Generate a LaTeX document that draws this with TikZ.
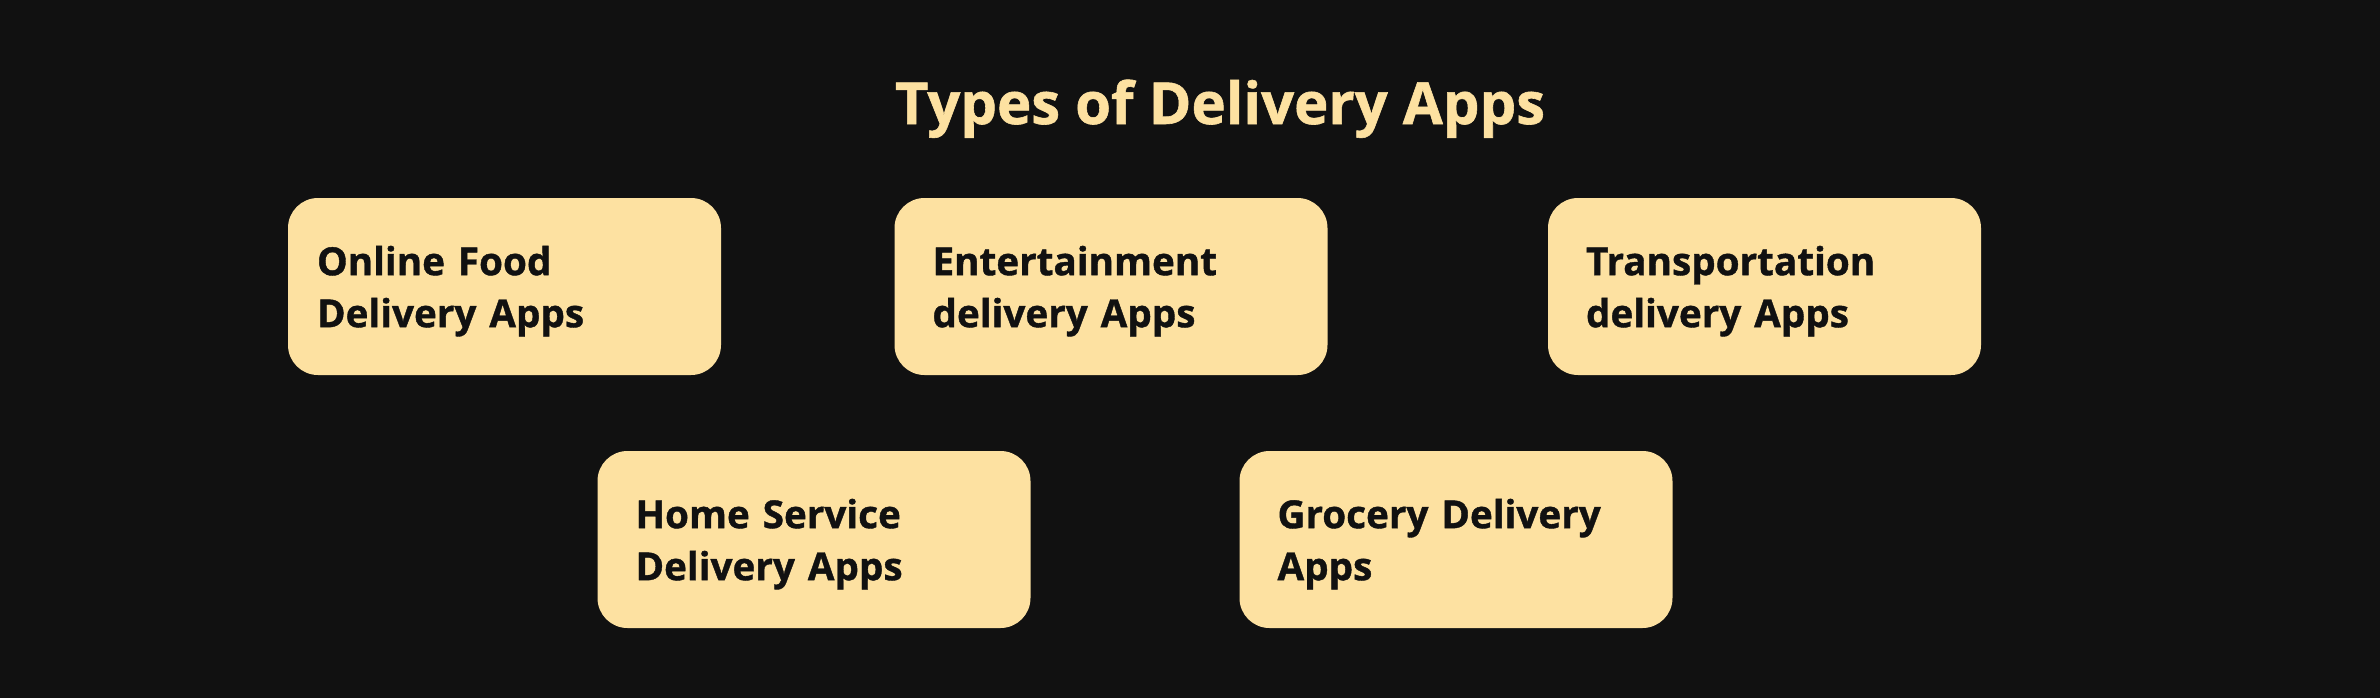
\documentclass[tikz,border=0pt]{standalone}
\usepackage{fontspec}
\setmainfont{Open Sans}[BoldFeatures={FakeBold=1}]
\usetikzlibrary{backgrounds,calc,shapes}
\definecolor{bgdark}{HTML}{111111}
\definecolor{cream}{HTML}{FDE1A1}

\begin{document}
\begin{tikzpicture}
	\tikzstyle{appbox} = [rectangle, fill=cream, text=bgdark, rounded corners=0.3cm, minimum width=4.33cm, minimum height=1.77cm, text width=3.57cm, text depth=0.52cm, inner xsep=0.38cm, inner ysep=0pt, align=left, font=\bfseries\fontsize{11}{14.8}\selectfont]
	\tikzstyle{heading} = [text=cream, inner sep=0pt, font=\bfseries\fontsize{16.5}{19}\selectfont]
\fill [bgdark] (0,0) rectangle (23.80,-6.98);
\useasboundingbox (0,0) rectangle (23.80,-6.98);
\node [heading, anchor=base] at (12.20,-1.24) (title) {Types of Delivery Apps};
\node [appbox, text width=3.75cm, inner xsep=0.29cm] at (5.045,-2.865) (food) {Online Food\\Delivery Apps};
\node [appbox] at (11.11,-2.865) (ent) {Entertainment\\delivery Apps};
\node [appbox] at (17.645,-2.865) (trans) {Transportation\\delivery Apps};
\node [appbox] at (8.14,-5.395) (home) {Home Service\\Delivery Apps};
\node [appbox] at (14.56,-5.395) (groc) {Grocery Delivery\\Apps};
\end{tikzpicture}
\end{document}
